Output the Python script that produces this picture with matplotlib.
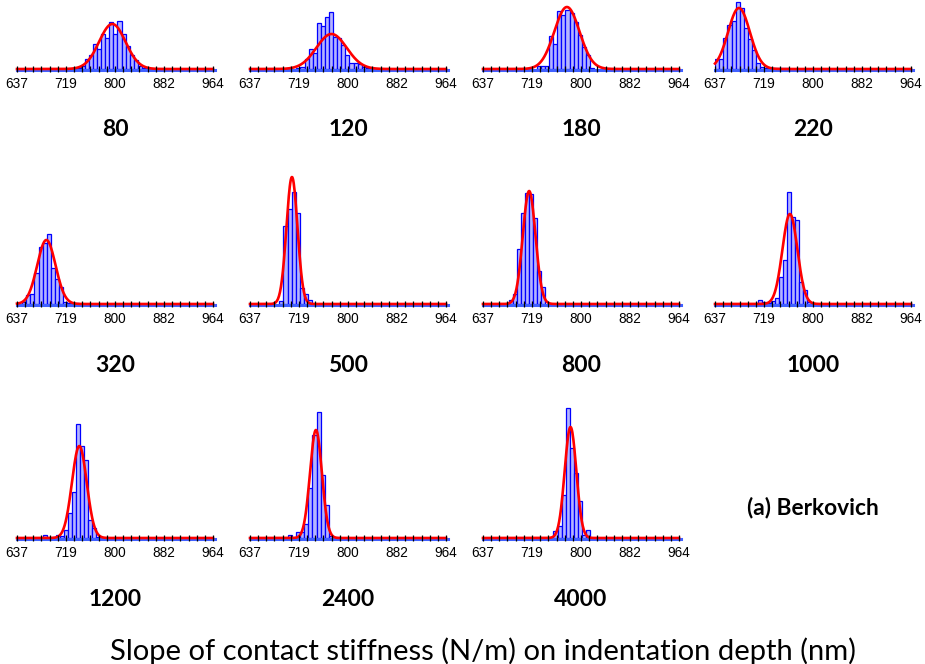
import numpy as np
import matplotlib
matplotlib.use('Agg')
import matplotlib.pyplot as plt
from matplotlib import font_manager

# indentation depth (nm) of each panel
depths = ['80', '120', '180', '220', '320', '500', '800', '1000', '1200', '2400', '4000']

# histogram counts (first bin position + heights)
hist_80 = [1, 3, 10, 14, 25, 20, 35, 31, 47, 35, 48, 35, 23, 14, 9, 3, 1]
hist_120 = [1, 2, 10, 20, 16, 46, 43, 52, 57, 32, 31, 24, 14, 6, 6, 5, 2, 1]
hist_180 = [3, 3, 3, 33, 25, 58, 54, 59, 56, 47, 34, 22, 14, 1]
hist_220 = [10, 10, 31, 44, 48, 67, 61, 41, 30, 19, 6, 2, 1, 1, 1, 1, 1, 1]
hist_320 = [2, 9, 10, 31, 57, 61, 70, 36, 25, 17, 2, 1, 1, 1]
hist_500 = [3, 78, 95, 112, 91, 16, 10, 4]
hist_800 = [4, 10, 55, 91, 111, 110, 86, 33, 17]
hist_1000 = [4, 2, 1, 3, 6, 27, 44, 112, 87, 84, 22, 14, 2]
hist_1200 = [3, 0, 1, 3, 2, 8, 25, 46, 114, 92, 78, 18, 10, 1]
hist_2400 = [3, 0, 6, 6, 14, 50, 103, 126, 63, 33, 2]
hist_4000 = [7, 12, 43, 130, 90, 65, 37, 3, 8]
hists = [hist_80, hist_120, hist_180, hist_220, hist_320, hist_500,
         hist_800, hist_1000, hist_1200, hist_2400, hist_4000]
first_bin = [14.6, 11.35, 13.2, 0.05, 1.27, 7.2, 6.3, 10.6, 6.45, 9.3, 17.25]

# normal fit of each panel
fit_mu = [796, 773, 777, 677, 686, 707, 714, 762, 741, 747, 783]
fit_sigma = [22, 25.3, 21, 18.2, 15.3, 9.2, 10.6, 12.5, 12.3, 9.9, 9.7]
fit_peak = [45, 35, 62, 61, 64, 127, 113, 90, 92, 108, 111]

xmin, xmax = 637, 964
xtick_labels = ['637', '719', '800', '882', '964']
nbins = 48

names = {f.name for f in font_manager.fontManager.ttflist}
if 'Liberation Sans Narrow' in names:
  tick_font, tick_size = 'Liberation Sans Narrow', 10.5
else:
  tick_font, tick_size = 'Liberation Sans', 9.8

W, H = 925, 664
fig = plt.figure(figsize=(W / 100, H / 100), dpi=100)

col_x = [17, 250, 483, 715]
row_base = [69, 304, 538]
ax_w, ax_h = 196, 140

bw = (xmax - xmin) / nbins
xs = np.linspace(xmin, xmax, 400)

for k, d in enumerate(depths):
  r, c = divmod(k, 4)
  ax = fig.add_axes([col_x[c] / W, (H - row_base[r]) / H, ax_w / W, ax_h / H])
  h = np.array(hists[k])
  lefts = xmin + (first_bin[k] + np.arange(len(h))) * bw
  ax.bar(lefts, h, width=bw, align='edge', color='#b4b4ff',
         edgecolor='#0000ff', linewidth=0.9, zorder=2)
  ax.plot([xmin, xmax + 3], [-0.5, -0.5], color='#4060ff', lw=2.2,
          clip_on=False, zorder=1.9)
  fit = fit_peak[k] * np.exp(-(xs - fit_mu[k]) ** 2 / (2 * fit_sigma[k] ** 2))
  ax.plot(xs, fit, color='red', lw=1.9, clip_on=False, zorder=2.2)
  ax.set_axisbelow(False)
  ax.set_xlim(xmin, xmax)
  ax.set_ylim(0, ax_h)
  for s in ax.spines.values():
    s.set_visible(False)
  ax.set_yticks([])
  ax.set_xticks(np.linspace(xmin, xmax, 5))
  ax.set_xticklabels(xtick_labels, family=[tick_font, 'DejaVu Sans'],
                     fontsize=tick_size)
  ax.set_xticks(np.linspace(xmin, xmax, 25), minor=True)
  ax.tick_params(axis='x', which='both', direction='inout', length=4,
                 width=0.9, color='black', pad=4)
  ax.patch.set_alpha(0)
  ax.text(0.5, -61 / ax_h, d, transform=ax.transAxes, ha='center', va='center',
          fontsize=16.5, fontweight='bold', family=['Lato', 'DejaVu Sans'])

fig.text(813 / W, 1 - 508 / H, '(a) Berkovich', ha='center', va='center',
         fontsize=16.4, fontweight='bold', family=['Lato', 'DejaVu Sans'])
fig.text(483 / W, 1 - 651 / H,
         'Slope of contact stiffness (N/m) on indentation depth (nm)',
         ha='center', va='center', fontsize=21, family=['Lato', 'DejaVu Sans'])

fig.savefig('out.png', dpi=100)
